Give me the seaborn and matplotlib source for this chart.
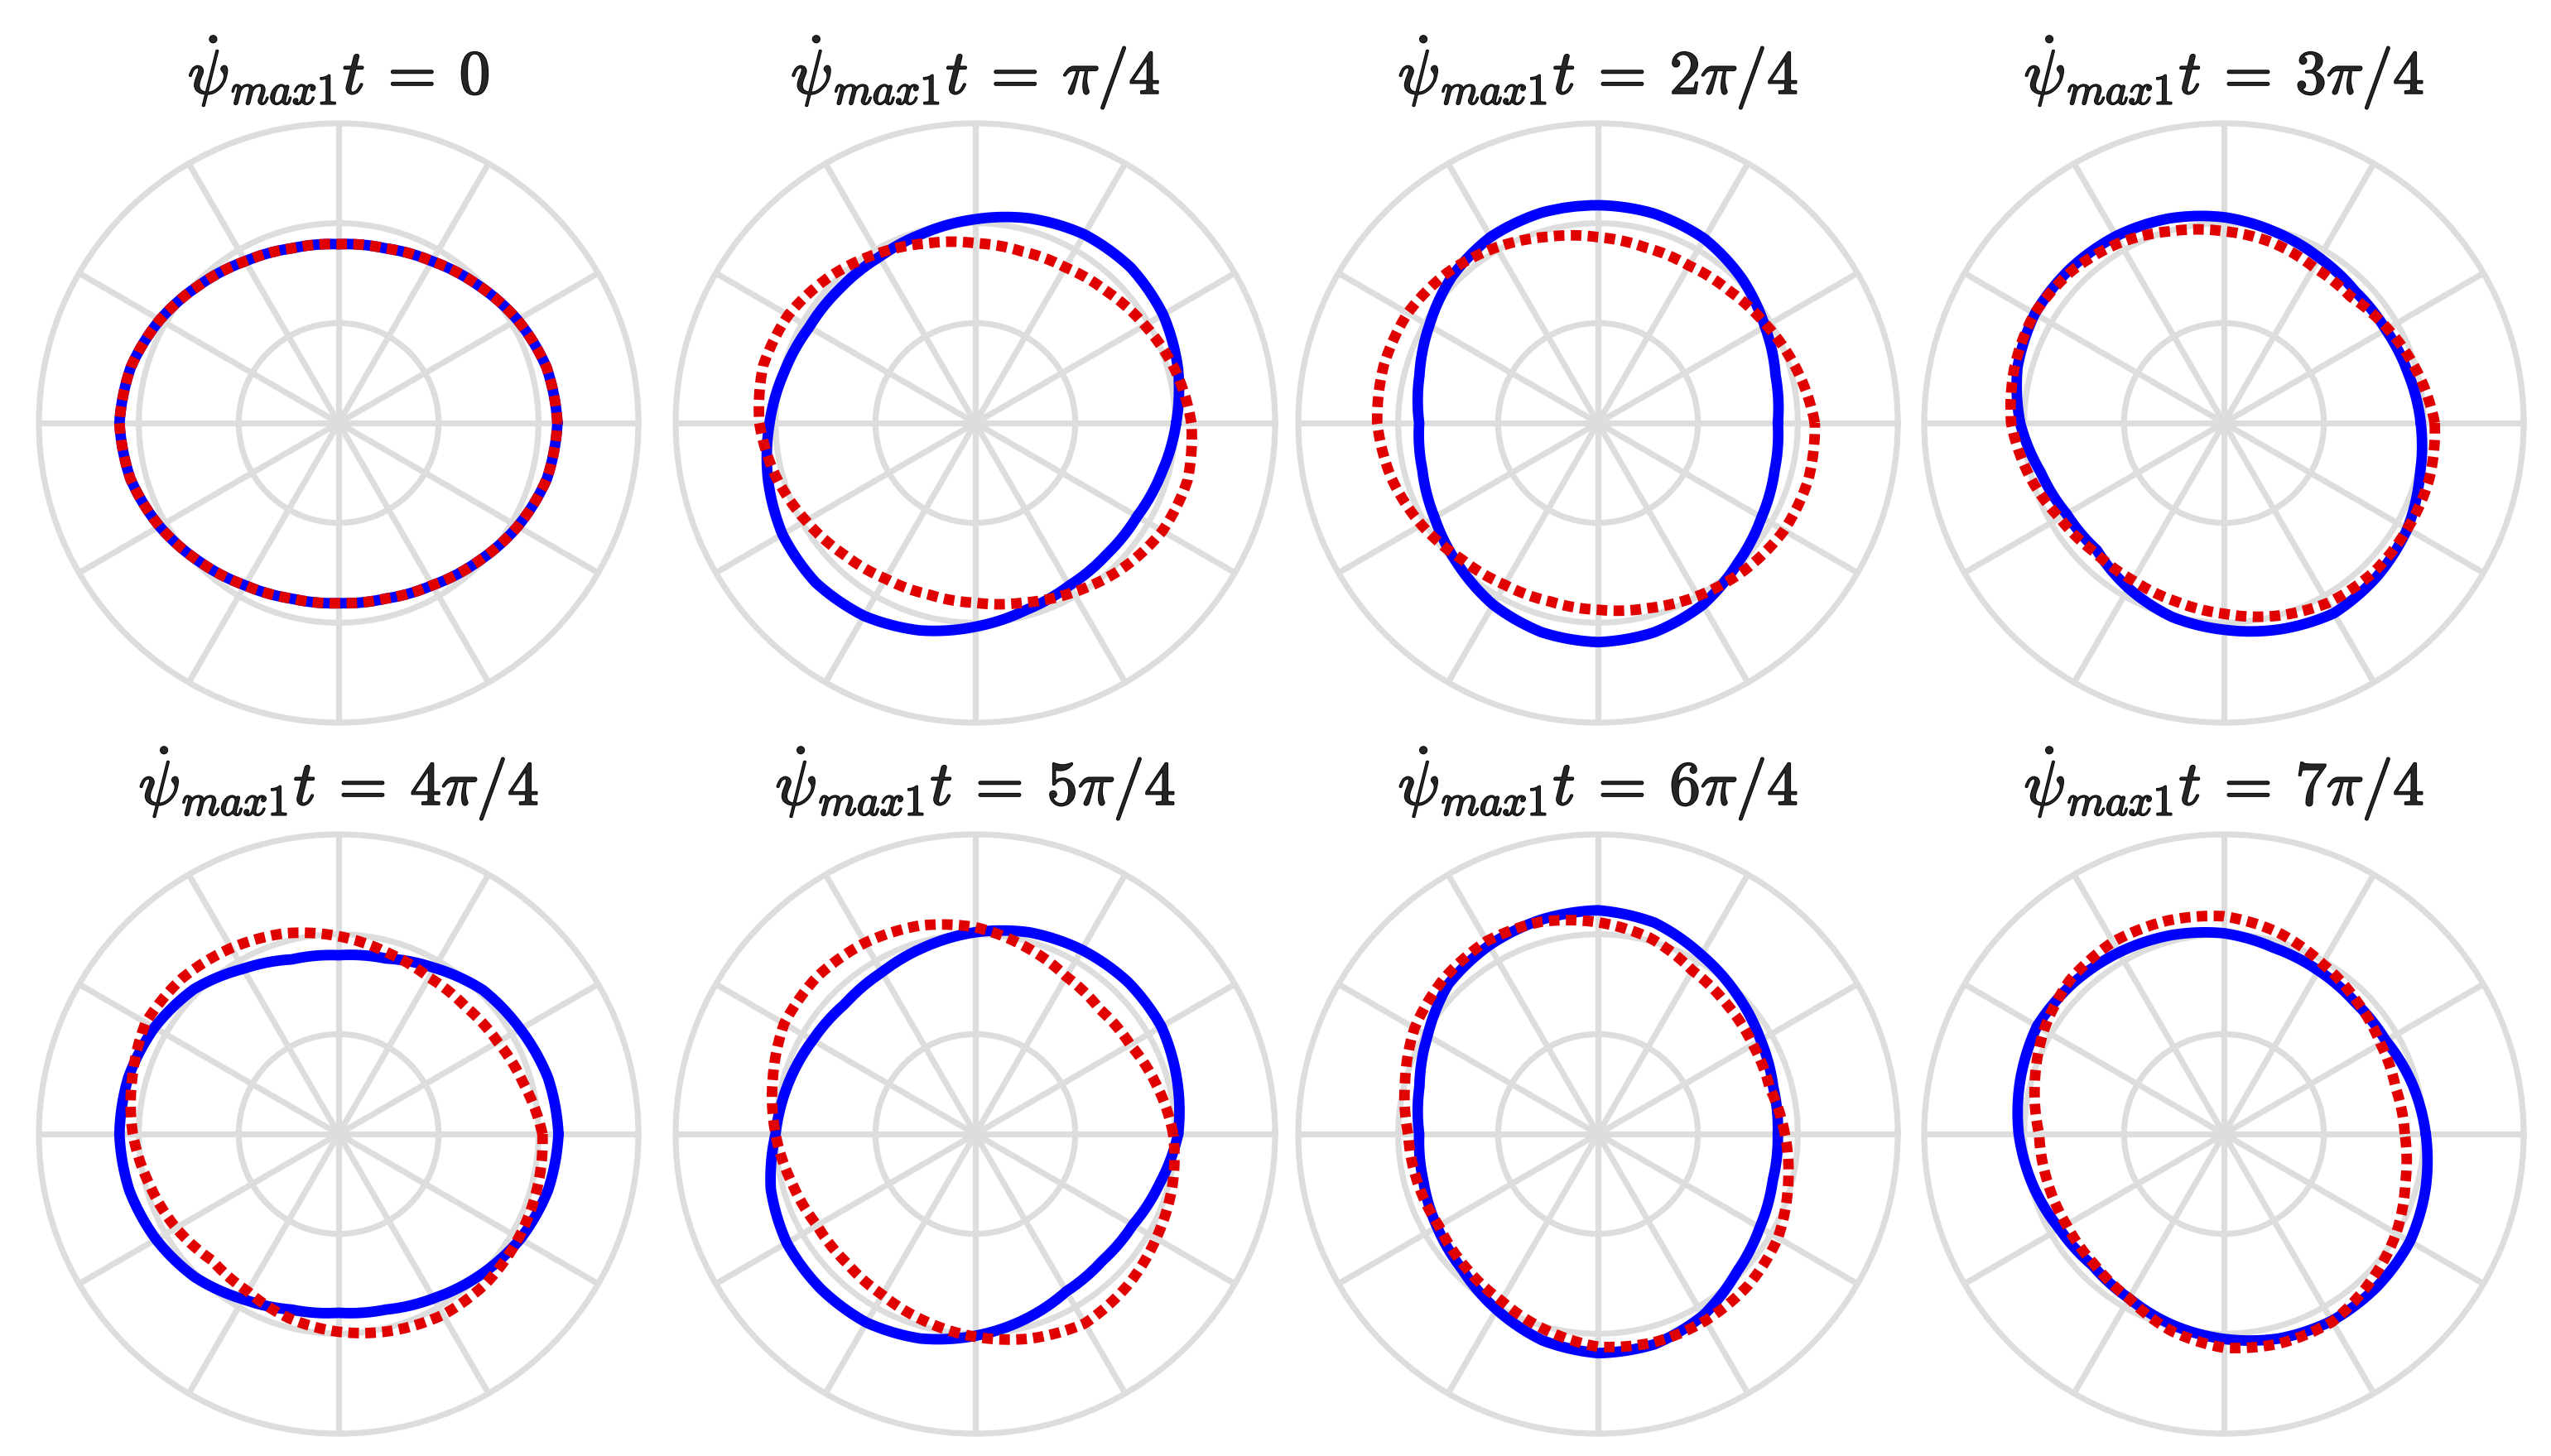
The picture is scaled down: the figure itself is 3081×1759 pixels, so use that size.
import numpy as np
import pandas as pd
import matplotlib
matplotlib.use("Agg")
import matplotlib.pyplot as plt
import matplotlib.patheffects as pe
import seaborn as sns

angle_deg = [0, 15, 30, 45, 60, 75, 90, 105, 120, 135, 150, 165,
             180, 195, 210, 225, 240, 255, 270, 285, 300, 315, 330, 345]

titles = [r'$\dot{\psi}_{max1}t\:=\:0$', r'$\dot{\psi}_{max1}t\:=\:\pi/4$',
          r'$\dot{\psi}_{max1}t\:=\:2\pi/4$', r'$\dot{\psi}_{max1}t\:=\:3\pi/4$',
          r'$\dot{\psi}_{max1}t\:=\:4\pi/4$', r'$\dot{\psi}_{max1}t\:=\:5\pi/4$',
          r'$\dot{\psi}_{max1}t\:=\:6\pi/4$', r'$\dot{\psi}_{max1}t\:=\:7\pi/4$']

# solid blue curves, one list per panel
blue_0 = [1.095, 1.077, 1.033, 0.980, 0.935, 0.905, 0.895, 0.905, 0.935, 0.980, 1.033, 1.077,
          1.097, 1.079, 1.035, 0.983, 0.938, 0.910, 0.902, 0.910, 0.938, 0.983, 1.035, 1.079]
blue_1 = [1.005, 1.050, 1.085, 1.100, 1.090, 1.060, 1.020, 0.985, 0.960, 0.955, 0.960, 0.990,
          1.030, 1.075, 1.115, 1.130, 1.115, 1.075, 1.020, 0.970, 0.940, 0.930, 0.935, 0.965]
blue_2 = [0.900, 0.920, 0.965, 1.020, 1.065, 1.085, 1.090, 1.090, 1.075, 1.035, 0.975, 0.925,
          0.895, 0.910, 0.945, 0.995, 1.050, 1.085, 1.097, 1.085, 1.050, 0.990, 0.945, 0.915]
blue_3 = [0.985, 0.955, 0.935, 0.930, 0.955, 0.990, 1.030, 1.060, 1.080, 1.090, 1.093, 1.070,
          1.020, 0.950, 0.910, 0.900, 0.955, 1.005, 1.035, 1.070, 1.100, 1.085, 1.060, 1.015]
blue_4 = [1.100, 1.085, 1.050, 1.020, 0.960, 0.910, 0.895, 0.905, 0.955, 1.025, 1.065, 1.090,
          1.097, 1.085, 1.055, 1.015, 0.955, 0.910, 0.895, 0.910, 0.950, 1.000, 1.050, 1.085]
blue_5 = [1.015, 1.045, 1.075, 1.078, 1.065, 1.045, 1.010, 0.970, 0.935, 0.922, 0.940, 0.970,
          1.000, 1.060, 1.090, 1.095, 1.090, 1.060, 1.010, 0.960, 0.910, 0.898, 0.910, 0.955]
blue_6 = [0.900, 0.908, 0.940, 0.985, 1.035, 1.095, 1.120, 1.110, 1.090, 1.060, 0.985, 0.925,
          0.895, 0.905, 0.930, 0.960, 1.015, 1.070, 1.097, 1.090, 1.050, 0.980, 0.935, 0.905]
blue_7 = [1.010, 0.975, 0.935, 0.930, 0.945, 0.965, 1.005, 1.030, 1.050, 1.068, 1.080, 1.055,
          1.027, 0.990, 0.950, 0.930, 0.950, 0.990, 1.026, 1.060, 1.080, 1.082, 1.075, 1.045]

# dotted red curves
red_0 = [1.095, 1.077, 1.033, 0.980, 0.935, 0.905, 0.895, 0.905, 0.935, 0.980, 1.033, 1.077,
         1.097, 1.079, 1.035, 0.983, 0.938, 0.910, 0.902, 0.910, 0.938, 0.983, 1.035, 1.079]
red_1 = [1.081, 1.034, 0.979, 0.931, 0.900, 0.890, 0.900, 0.931, 0.979, 1.034, 1.081, 1.100,
         1.081, 1.034, 0.979, 0.931, 0.900, 0.890, 0.900, 0.931, 0.979, 1.034, 1.081, 1.100]
red_2 = [1.085, 1.030, 0.975, 0.933, 0.910, 0.910, 0.930, 0.965, 1.015, 1.065, 1.100, 1.110,
         1.105, 1.070, 1.020, 0.965, 0.935, 0.925, 0.935, 0.960, 1.000, 1.040, 1.075, 1.090]
red_3 = [1.055, 1.000, 0.945, 0.895, 0.900, 0.935, 0.960, 0.995, 1.042, 1.077, 1.095, 1.085,
         1.065, 1.010, 0.950, 0.915, 0.910, 0.925, 0.955, 1.000, 1.040, 1.058, 1.060, 1.065]
red_4 = [1.020, 0.960, 0.920, 0.900, 0.905, 0.940, 0.990, 1.040, 1.075, 1.105, 1.115, 1.070,
         1.030, 0.980, 0.940, 0.895, 0.910, 0.955, 0.990, 1.020, 1.045, 1.050, 1.040, 1.030]
red_5 = [0.990, 0.940, 0.895, 0.882, 0.910, 0.970, 1.035, 1.080, 1.105, 1.117, 1.105, 1.050,
         1.000, 0.950, 0.915, 0.912, 0.930, 0.970, 1.015, 1.060, 1.095, 1.075, 1.045, 1.020]
red_6 = [0.935, 0.890, 0.895, 0.915, 0.945, 1.015, 1.060, 1.100, 1.115, 1.095, 1.060, 1.000,
         0.950, 0.935, 0.920, 0.940, 0.965, 1.015, 1.065, 1.080, 1.078, 1.067, 1.040, 0.985]
red_7 = [0.905, 0.890, 0.905, 0.940, 0.985, 1.045, 1.090, 1.105, 1.110, 1.090, 1.040, 0.980,
         0.925, 0.915, 0.910, 0.920, 0.950, 1.020, 1.070, 1.085, 1.085, 1.040, 0.995, 0.940]

blue_curves = [blue_0, blue_1, blue_2, blue_3, blue_4, blue_5, blue_6, blue_7]
red_curves = [red_0, red_1, red_2, red_3, red_4, red_5, red_6, red_7]

GRID = '#dddddd'
BLUE = '#0000ff'
RED = '#e00000'


def closed(values):
    """theta/r with the first point repeated so the loop closes"""
    theta = np.deg2rad(angle_deg + [360])
    r = list(values) + [values[0]]
    return pd.DataFrame({'theta': theta, 'r': r})


def polar_segments(line, steps=30):
    # let the polar transform draw each segment as a curve in (theta, r)
    line._path._interpolation_steps = steps


sns.set_theme(style='white')
plt.rcParams['mathtext.fontset'] = 'cm'
plt.rcParams['font.family'] = ['DejaVu Sans']

W, H = 3081, 1759
fig = plt.figure(figsize=(W / 200, H / 200), dpi=200)

col_cx = [409, 1178, 1930, 2686]
row_cy = [511, 1370]
rad = 362

for i in range(8):
    cx = col_cx[i % 4]
    cy = row_cy[i // 4]
    rect = [(cx - rad) / W, 1 - (cy + rad) / H, 2 * rad / W, 2 * rad / H]
    ax = fig.add_axes(rect, projection='polar')

    sns.lineplot(data=closed(blue_curves[i]), x='theta', y='r', ax=ax,
                 color=BLUE, linewidth=4.6, estimator=None, sort=False)
    polar_segments(ax.lines[-1])
    sns.lineplot(data=closed(red_curves[i]), x='theta', y='r', ax=ax,
                 color=RED, linewidth=4.6, estimator=None, sort=False,
                 linestyle=(0, (1, 0.6)), dash_capstyle='butt')
    polar_segments(ax.lines[-1])

    ax.set_ylim(0, 1.5)
    ax.set_yticks([0.5, 1.0])
    ax.set_yticklabels([])
    ax.set_xticks(np.deg2rad(np.arange(0, 360, 30)))
    ax.set_xticklabels([])
    ax.tick_params(length=0)
    ax.set_xlabel('')
    ax.set_ylabel('')
    ax.grid(True, color=GRID, linewidth=2.6)
    ax.spines['polar'].set_color(GRID)
    ax.spines['polar'].set_linewidth(2.6)
    t = ax.set_title(titles[i], fontsize=27, pad=13)
    t.set_path_effects([pe.withStroke(linewidth=0.7, foreground='black')])

fig.savefig('out.png', dpi=200)
